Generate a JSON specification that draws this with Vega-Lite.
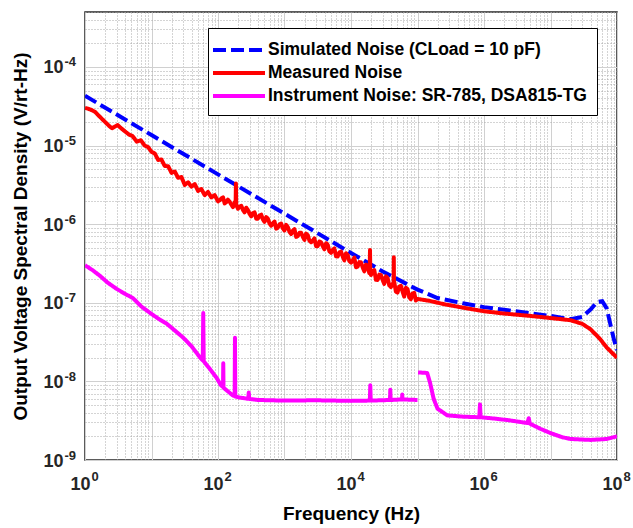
{
  "$schema": "https://vega.github.io/schema/vega-lite/v6.json",
  "width": 532,
  "height": 448,
  "autosize": {"type": "none"},
  "padding": {"left": 85, "top": 12, "right": 16, "bottom": 68},
  "background": "white",
  "config": {
    "font": "Liberation Sans",
    "view": {"stroke": "#262626", "strokeWidth": 1.5},
    "axis": {
      "labelFont": "Liberation Sans",
      "labelFontWeight": "bold",
      "labelColor": "#262626",
      "titleFont": "Liberation Sans",
      "titleFontWeight": "bold",
      "titleFontSize": 19,
      "titleColor": "#000000",
      "domain": false,
      "ticks": false,
      "labelOverlap": false,
      "labelFlush": false,
      "labelBound": false,
      "gridWidth": 1
    }
  },
  "datasets": {
    "sim": [
      {"f": 1, "v": 4.3e-5}, {"f": 10, "v": 1.36e-5}, {"f": 100, "v": 4.3e-6}, {"f": 1000, "v": 1.36e-6},
      {"f": 10000, "v": 4.3e-7}, {"f": 30000, "v": 2.5e-7}, {"f": 100000, "v": 1.47e-7}, {"f": 200000, "v": 1.15e-7},
      {"f": 500000, "v": 9.8e-8}, {"f": 1000000, "v": 8.8e-8}, {"f": 3000000, "v": 7.8e-8}, {"f": 10000000, "v": 6.8e-8},
      {"f": 20000000, "v": 6.2e-8}, {"f": 30000000, "v": 6.6e-8}, {"f": 40000000, "v": 8.2e-8}, {"f": 50000000, "v": 1.02e-7},
      {"f": 60000000, "v": 1.05e-7}, {"f": 70000000, "v": 8.5e-8}, {"f": 80000000, "v": 5.2e-8}, {"f": 90000000, "v": 3.4e-8},
      {"f": 100000000, "v": 2.5e-8}
    ],
    "meas": [
      {"f": 1, "v": 3.02e-5}, {"f": 1.2, "v": 2.88e-5}, {"f": 1.41, "v": 2.69e-5}, {"f": 1.7, "v": 2.29e-5},
      {"f": 2.0, "v": 2.0e-5}, {"f": 2.3, "v": 1.78e-5}, {"f": 2.55, "v": 1.66e-5}, {"f": 2.8, "v": 1.74e-5},
      {"f": 3.1, "v": 1.82e-5}, {"f": 3.5, "v": 1.66e-5}, {"f": 4.0, "v": 1.51e-5}, {"f": 4.6, "v": 1.38e-5},
      {"f": 5.2, "v": 1.32e-5}, {"f": 6.0, "v": 1.12e-5}, {"f": 6.9, "v": 1.17e-5}, {"f": 7.9, "v": 1.0e-5},
      {"f": 8.9, "v": 9.55e-6}, {"f": 10, "v": 8.32e-6},
      {"f": 11.2, "v": 7.94e-6}, {"f": 12.6, "v": 6.56e-6}, {"f": 14.1, "v": 6.65e-6}, {"f": 15.8, "v": 5.5e-6},
      {"f": 17.8, "v": 5.46e-6}, {"f": 20.0, "v": 4.5e-6}, {"f": 22.4, "v": 4.68e-6}, {"f": 25.1, "v": 3.89e-6},
      {"f": 28.2, "v": 3.98e-6}, {"f": 31.6, "v": 3.16e-6}, {"f": 35.5, "v": 3.41e-6}, {"f": 39.8, "v": 3.0e-6},
      {"f": 44.7, "v": 3.24e-6}, {"f": 50.1, "v": 2.65e-6}, {"f": 56.2, "v": 2.8e-6}, {"f": 63.1, "v": 2.34e-6},
      {"f": 70.8, "v": 2.57e-6}, {"f": 79.4, "v": 2.19e-6}, {"f": 89.1, "v": 2.34e-6}, {"f": 100, "v": 1.95e-6},
      {"f": 106, "v": 2.01e-6}, {"f": 112, "v": 2.12e-6}, {"f": 119, "v": 2.19e-6}, {"f": 126, "v": 1.84e-6},
      {"f": 133, "v": 1.9e-6}, {"f": 141, "v": 2.05e-6}, {"f": 150, "v": 1.93e-6}, {"f": 158, "v": 1.78e-6},
      {"f": 168, "v": 1.65e-6}, {"f": 178, "v": 1.89e-6}, {"f": 184, "v": 1.8e-6}, {"f": 186, "v": 3.3e-6},
      {"f": 188, "v": 1.75e-6}, {"f": 200, "v": 1.57e-6}, {"f": 211, "v": 1.67e-6}, {"f": 224, "v": 1.71e-6},
      {"f": 237, "v": 1.52e-6}, {"f": 251, "v": 1.41e-6}, {"f": 266, "v": 1.62e-6}, {"f": 282, "v": 1.51e-6},
      {"f": 299, "v": 1.35e-6}, {"f": 316, "v": 1.26e-6}, {"f": 335, "v": 1.38e-6}, {"f": 355, "v": 1.41e-6},
      {"f": 376, "v": 1.175e-6}, {"f": 398, "v": 1.175e-6}, {"f": 422, "v": 1.29e-6}, {"f": 447, "v": 1.32e-6},
      {"f": 473, "v": 1.15e-6}, {"f": 501, "v": 1.07e-6}, {"f": 531, "v": 1.23e-6}, {"f": 562, "v": 1.175e-6},
      {"f": 596, "v": 1.02e-6}, {"f": 631, "v": 9.55e-7}, {"f": 668, "v": 1.026e-6}, {"f": 708, "v": 1.08e-6},
      {"f": 750, "v": 8.77e-7}, {"f": 794, "v": 9.02e-7}, {"f": 841, "v": 9.91e-7}, {"f": 891, "v": 1.016e-6},
      {"f": 944, "v": 8.87e-7}, {"f": 1000, "v": 8.32e-7}, {"f": 1059, "v": 9.79e-7}, {"f": 1122, "v": 9.16e-7},
      {"f": 1189, "v": 8.0e-7}, {"f": 1259, "v": 7.5e-7}, {"f": 1334, "v": 8.24e-7}, {"f": 1413, "v": 8.65e-7},
      {"f": 1496, "v": 6.89e-7}, {"f": 1585, "v": 7.08e-7}, {"f": 1679, "v": 7.76e-7}, {"f": 1778, "v": 7.76e-7},
      {"f": 1884, "v": 6.92e-7}, {"f": 1995, "v": 6.31e-7}, {"f": 2113, "v": 7.59e-7}, {"f": 2239, "v": 7.24e-7},
      {"f": 2371, "v": 6.17e-7}, {"f": 2512, "v": 5.89e-7}, {"f": 2661, "v": 6.17e-7}, {"f": 2818, "v": 6.61e-7},
      {"f": 2985, "v": 5.25e-7}, {"f": 3162, "v": 5.25e-7}, {"f": 3350, "v": 6.03e-7}, {"f": 3548, "v": 5.89e-7},
      {"f": 3758, "v": 5.25e-7}, {"f": 3981, "v": 4.79e-7}, {"f": 4217, "v": 5.73e-7}, {"f": 4467, "v": 5.46e-7},
      {"f": 4732, "v": 4.53e-7}, {"f": 5012, "v": 4.32e-7}, {"f": 5309, "v": 4.71e-7}, {"f": 5623, "v": 4.92e-7},
      {"f": 5957, "v": 3.9e-7}, {"f": 6310, "v": 3.89e-7}, {"f": 6683, "v": 4.37e-7}, {"f": 7079, "v": 4.47e-7},
      {"f": 7499, "v": 3.89e-7}, {"f": 7943, "v": 3.47e-7}, {"f": 8414, "v": 4.27e-7}, {"f": 8913, "v": 4.07e-7},
      {"f": 9441, "v": 3.39e-7}, {"f": 10000, "v": 3.24e-7}, {"f": 10590, "v": 3.44e-7}, {"f": 11220, "v": 3.76e-7},
      {"f": 11890, "v": 2.83e-7}, {"f": 12590, "v": 2.88e-7}, {"f": 13340, "v": 3.29e-7}, {"f": 14130, "v": 3.27e-7},
      {"f": 14960, "v": 2.83e-7}, {"f": 15850, "v": 2.51e-7}, {"f": 16790, "v": 3.06e-7}, {"f": 17780, "v": 2.9e-7},
      {"f": 18840, "v": 2.39e-7}, {"f": 19100, "v": 2.6e-7}, {"f": 19300, "v": 4.7e-7}, {"f": 19500, "v": 2.6e-7},
      {"f": 19950, "v": 2.26e-7}, {"f": 21130, "v": 2.46e-7}, {"f": 22390, "v": 2.61e-7}, {"f": 23710, "v": 1.96e-7},
      {"f": 25120, "v": 1.95e-7}, {"f": 26610, "v": 2.28e-7}, {"f": 28180, "v": 2.26e-7}, {"f": 29850, "v": 1.96e-7},
      {"f": 31620, "v": 1.74e-7}, {"f": 33500, "v": 2.17e-7}, {"f": 35480, "v": 2.07e-7}, {"f": 37580, "v": 1.67e-7},
      {"f": 39810, "v": 1.585e-7}, {"f": 42170, "v": 1.73e-7}, {"f": 43700, "v": 1.8e-7}, {"f": 44000, "v": 3.8e-7},
      {"f": 44300, "v": 1.8e-7}, {"f": 44670, "v": 1.84e-7}, {"f": 47320, "v": 1.39e-7}, {"f": 50120, "v": 1.35e-7},
      {"f": 53090, "v": 1.61e-7}, {"f": 56230, "v": 1.64e-7}, {"f": 59570, "v": 1.39e-7}, {"f": 63100, "v": 1.2e-7},
      {"f": 66830, "v": 1.55e-7}, {"f": 70790, "v": 1.49e-7}, {"f": 74990, "v": 1.18e-7}, {"f": 79430, "v": 1.11e-7},
      {"f": 84140, "v": 1.31e-7}, {"f": 89130, "v": 1.34e-7}, {"f": 94410, "v": 1.07e-7}, {"f": 100000, "v": 1.12e-7},
      {"f": 150000, "v": 1.06e-7}, {"f": 250000, "v": 9.6e-8}, {"f": 550000, "v": 8.5e-8}, {"f": 1000000, "v": 7.8e-8},
      {"f": 2000000, "v": 7.3e-8}, {"f": 5000000, "v": 6.8e-8}, {"f": 10000000, "v": 6.4e-8}, {"f": 20000000, "v": 6.0e-8},
      {"f": 30000000, "v": 5.4e-8}, {"f": 40000000, "v": 4.6e-8}, {"f": 55000000, "v": 3.5e-8}, {"f": 70000000, "v": 2.7e-8},
      {"f": 100000000, "v": 2.0e-8}
    ],
    "inst": [
      {"f": 1, "v": 3.0e-7, "g": 1}, {"f": 1.3, "v": 2.6e-7, "g": 1}, {"f": 1.68, "v": 2.2e-7, "g": 1}, {"f": 2.2, "v": 1.8e-7, "g": 1},
      {"f": 3.0, "v": 1.5e-7, "g": 1}, {"f": 4.0, "v": 1.3e-7, "g": 1}, {"f": 5.3, "v": 1.14e-7, "g": 1}, {"f": 7.0, "v": 9.0e-8, "g": 1},
      {"f": 10, "v": 7.2e-8, "g": 1}, {"f": 13, "v": 6.2e-8, "g": 1}, {"f": 17, "v": 5.4e-8, "g": 1}, {"f": 22, "v": 4.5e-8, "g": 1},
      {"f": 30, "v": 3.6e-8, "g": 1}, {"f": 40, "v": 2.8e-8, "g": 1}, {"f": 54, "v": 2.0e-8, "g": 1}, {"f": 59, "v": 1.85e-8, "g": 1},
      {"f": 60, "v": 7.4e-8, "g": 1}, {"f": 61, "v": 1.8e-8, "g": 1}, {"f": 75, "v": 1.45e-8, "g": 1}, {"f": 96, "v": 1.1e-8, "g": 1},
      {"f": 110, "v": 9.0e-9, "g": 1}, {"f": 119, "v": 8.5e-9, "g": 1}, {"f": 120, "v": 1.7e-8, "g": 1}, {"f": 121, "v": 8.3e-9, "g": 1},
      {"f": 140, "v": 7.5e-9, "g": 1}, {"f": 168, "v": 6.6e-9, "g": 1}, {"f": 178, "v": 6.5e-9, "g": 1}, {"f": 180, "v": 3.6e-8, "g": 1},
      {"f": 182, "v": 6.4e-9, "g": 1}, {"f": 220, "v": 6.2e-9, "g": 1}, {"f": 285, "v": 6.0e-9, "g": 1}, {"f": 290, "v": 7.2e-9, "g": 1},
      {"f": 295, "v": 6.0e-9, "g": 1}, {"f": 400, "v": 5.8e-9, "g": 1}, {"f": 1000, "v": 5.7e-9, "g": 1}, {"f": 3000, "v": 5.75e-9, "g": 1},
      {"f": 10000, "v": 5.65e-9, "g": 1}, {"f": 19200, "v": 5.7e-9, "g": 1}, {"f": 19500, "v": 8.9e-9, "g": 1}, {"f": 19800, "v": 5.7e-9, "g": 1},
      {"f": 38500, "v": 5.8e-9, "g": 1}, {"f": 39000, "v": 7.8e-9, "g": 1}, {"f": 39500, "v": 5.8e-9, "g": 1}, {"f": 58500, "v": 5.9e-9, "g": 1},
      {"f": 59000, "v": 6.8e-9, "g": 1}, {"f": 59500, "v": 5.9e-9, "g": 1}, {"f": 100000, "v": 5.8e-9, "g": 1},
      {"f": 102000, "v": 1.3e-8, "g": 2}, {"f": 140000, "v": 1.28e-8, "g": 2}, {"f": 155000, "v": 9.5e-9, "g": 2}, {"f": 175000, "v": 6.0e-9, "g": 2},
      {"f": 200000, "v": 4.5e-9, "g": 2}, {"f": 280000, "v": 3.7e-9, "g": 2}, {"f": 500000, "v": 3.55e-9, "g": 2}, {"f": 850000, "v": 3.5e-9, "g": 2},
      {"f": 870000, "v": 5.1e-9, "g": 2}, {"f": 890000, "v": 3.5e-9, "g": 2}, {"f": 1500000, "v": 3.35e-9, "g": 2}, {"f": 2400000, "v": 3.2e-9, "g": 2},
      {"f": 4500000, "v": 2.95e-9, "g": 2}, {"f": 4700000, "v": 3.4e-9, "g": 2}, {"f": 4900000, "v": 2.9e-9, "g": 2}, {"f": 7000000, "v": 2.5e-9, "g": 2},
      {"f": 10000000, "v": 2.2e-9, "g": 2}, {"f": 15000000, "v": 1.95e-9, "g": 2}, {"f": 20000000, "v": 1.85e-9, "g": 2}, {"f": 40000000, "v": 1.8e-9, "g": 2},
      {"f": 70000000, "v": 1.85e-9, "g": 2}, {"f": 100000000, "v": 2.0e-9, "g": 2}
    ]
  },
  "encoding": {
    "color": {
      "field": "s", "type": "nominal",
      "scale": {"domain": ["a", "b", "c"], "range": ["#0000ff", "#ff0000", "#ff00ff"]},
      "legend": {
        "title": null,
        "orient": "none",
        "legendX": 123,
        "legendY": 16,
        "symbolType": "M-2.6,0H2.6",
        "symbolSize": 400,
        "symbolStrokeWidth": 4,
        "symbolOffset": 9,
        "labelFont": "Liberation Sans",
        "labelFontSize": 17.5,
        "labelFontWeight": "bold",
        "labelColor": "#000000",
        "labelExpr": "datum.value == 'a' ? 'Simulated Noise (CLoad = 10 pF)' : datum.value == 'b' ? 'Measured Noise' : 'Instrument Noise: SR-785, DSA815-TG'",
        "labelOffset": 17,
        "fillColor": "#ffffff",
        "strokeColor": "#000000",
        "padding": 10,
        "rowPadding": 2,
        "labelLimit": 400
      }
    },
    "strokeDash": {
      "field": "s", "type": "nominal",
      "scale": {"domain": ["a", "b", "c"], "range": [[13, 5], [1, 0], [1, 0]]},
      "legend": null
    }
  },
  "resolve": {"axis": {"x": "independent", "y": "independent"}},
  "layer": [
    {
      "data": {"name": "sim"},
      "transform": [{"calculate": "'a'", "as": "s"}],
      "mark": {"type": "line", "strokeWidth": 4, "clip": true},
      "encoding": {
        "x": {
          "field": "f", "type": "quantitative",
          "scale": {"type": "log", "domain": [1, 100000000], "nice": false},
          "axis": {
            "orient": "bottom",
            "title": "Frequency (Hz)",
            "values": [1,2,3,4,5,6,7,8,9,10,20,30,40,50,60,70,80,90,100,200,300,400,500,600,700,800,900,1000,2000,3000,4000,5000,6000,7000,8000,9000,10000,20000,30000,40000,50000,60000,70000,80000,90000,100000,200000,300000,400000,500000,600000,700000,800000,900000,1000000,2000000,3000000,4000000,5000000,6000000,7000000,8000000,9000000,10000000,20000000,30000000,40000000,50000000,60000000,70000000,80000000,90000000,100000000],
            "labelExpr": "(abs(log(datum.value)/LN10 - round(log(datum.value)/LN10)) < 0.001 && round(log(datum.value)/LN10) % 2 == 0) ? '10' : ''",
            "labelFontSize": 18,
            "labelAlign": "center",
            "labelOffset": -5,
            "labelPadding": 15,
            "titlePadding": 11,
            "grid": true,
            "gridDash": {"condition": {"test": "abs(log(datum.value)/LN10 - round(log(datum.value)/LN10)) < 0.001", "value": []}, "value": [1, 2]},
            "gridColor": {"condition": {"test": "abs(log(datum.value)/LN10 - round(log(datum.value)/LN10)) < 0.001", "value": "#d0d0d0"}, "value": "#a8a8a8"}
          }
        },
        "y": {
          "field": "v", "type": "quantitative",
          "scale": {"type": "log", "domain": [1e-9, 5e-4], "nice": false},
          "axis": {
            "orient": "left",
            "title": "Output Voltage Spectral Density (V/rt-Hz)",
            "values": [1e-9,2e-9,3e-9,4e-9,5e-9,6e-9,7e-9,8e-9,9e-9,1e-8,2e-8,3e-8,4e-8,5e-8,6e-8,7e-8,8e-8,9e-8,1e-7,2e-7,3e-7,4e-7,5e-7,6e-7,7e-7,8e-7,9e-7,1e-6,2e-6,3e-6,4e-6,5e-6,6e-6,7e-6,8e-6,9e-6,1e-5,2e-5,3e-5,4e-5,5e-5,6e-5,7e-5,8e-5,9e-5,1e-4,2e-4,3e-4,4e-4,5e-4],
            "labelExpr": "(abs(log(datum.value)/LN10 - round(log(datum.value)/LN10)) < 0.001) ? '10' : ''",
            "labelFontSize": 18,
            "labelAlign": "right",
            "labelBaseline": "middle",
            "labelOffset": 1,
            "labelPadding": 22,
            "titlePadding": 12,
            "grid": true,
            "gridDash": {"condition": {"test": "abs(log(datum.value)/LN10 - round(log(datum.value)/LN10)) < 0.001", "value": []}, "value": [1, 2]},
            "gridColor": {"condition": {"test": "abs(log(datum.value)/LN10 - round(log(datum.value)/LN10)) < 0.001", "value": "#d0d0d0"}, "value": "#a8a8a8"}
          }
        }
      }
    },
    {
      "data": {"name": "meas"},
      "transform": [{"calculate": "'b'", "as": "s"}],
      "mark": {"type": "line", "strokeWidth": 4, "strokeJoin": "round", "clip": true},
      "encoding": {
        "x": {
          "field": "f", "type": "quantitative",
          "scale": {"type": "log", "domain": [1, 100000000], "nice": false},
          "axis": {
            "orient": "bottom",
            "title": null,
            "grid": false,
            "values": [1, 100, 10000, 1000000, 100000000],
            "labelExpr": "'' + round(log(datum.value)/LN10)",
            "labelFontSize": 13,
            "labelAlign": "left",
            "labelOffset": 6,
            "labelPadding": 10
          }
        },
        "y": {
          "field": "v", "type": "quantitative",
          "scale": {"type": "log", "domain": [1e-9, 5e-4], "nice": false},
          "axis": {
            "orient": "left",
            "title": null,
            "grid": false,
            "values": [1e-9, 1e-8, 1e-7, 1e-6, 1e-5, 1e-4],
            "labelExpr": "'' + round(log(datum.value)/LN10)",
            "labelFontSize": 13,
            "labelAlign": "left",
            "labelBaseline": "middle",
            "labelOffset": -5,
            "labelPadding": 21
          }
        }
      }
    },
    {
      "data": {"name": "inst"},
      "transform": [{"calculate": "'c'", "as": "s"}],
      "mark": {"type": "line", "strokeWidth": 4, "strokeJoin": "round", "clip": true},
      "encoding": {
        "x": {"field": "f", "type": "quantitative", "scale": {"type": "log", "domain": [1, 100000000], "nice": false}, "axis": null},
        "y": {"field": "v", "type": "quantitative", "scale": {"type": "log", "domain": [1e-9, 5e-4], "nice": false}, "axis": null},
        "detail": {"field": "g", "type": "nominal"}
      }
    }
  ]
}
